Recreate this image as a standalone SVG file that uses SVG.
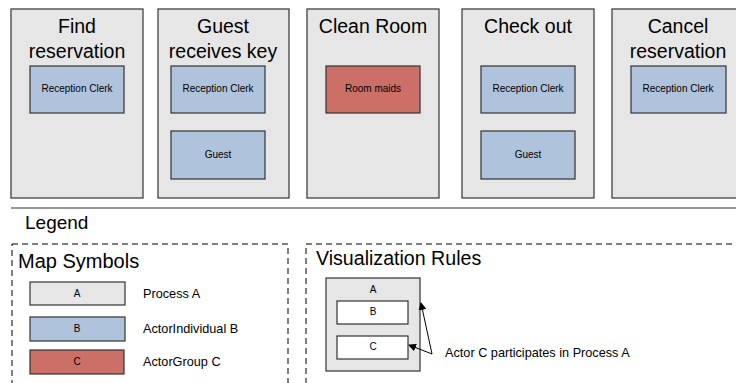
<svg xmlns="http://www.w3.org/2000/svg" width="736" height="383" viewBox="0 0 736 383">
<defs>
<marker id="ah" markerWidth="8" markerHeight="8" refX="7" refY="4" orient="auto" markerUnits="userSpaceOnUse">
<path d="M0,0 L8,4 L0,8 Z" fill="#000"/>
</marker>
<style>
text{font-family:"Liberation Sans",Arial,sans-serif;fill:#000}
.proc{fill:#e6e6e6;stroke:#333;stroke-width:1.2}
.ind{fill:#b0c3dc;stroke:#333;stroke-width:1.2}
.grp{fill:#cc6f67;stroke:#333;stroke-width:1.2}
.wht{fill:#fff;stroke:#333;stroke-width:1.2}
.title{font-size:19.5px;text-anchor:middle}
.lbl{font-size:10px;text-anchor:middle}
.sm{font-size:12.7px}
.dash{fill:none;stroke:#000;stroke-width:1;stroke-dasharray:6,4}
.conn{stroke:#000;stroke-width:1;fill:none;marker-end:url(#ah)}
</style>
</defs>
<rect width="736" height="383" fill="#fff"/>

<g id="p1">
<rect class="proc" x="11" y="9" width="132" height="189"/>
<text class="title" x="77" y="33">Find</text>
<text class="title" x="77" y="58">reservation</text>
<rect class="ind" x="30" y="66" width="94" height="47"/>
<text class="lbl" x="77" y="92">Reception Clerk</text>
</g>

<g id="p2">
<rect class="proc" x="158" y="9" width="131" height="189"/>
<text class="title" x="223" y="33">Guest</text>
<text class="title" x="223" y="58">receives key</text>
<rect class="ind" x="171" y="66" width="94" height="47"/>
<text class="lbl" x="218" y="92">Reception Clerk</text>
<rect class="ind" x="171" y="131" width="94" height="48"/>
<text class="lbl" x="218" y="158">Guest</text>
</g>

<g id="p3">
<rect class="proc" x="307" y="9" width="132" height="189"/>
<text class="title" x="373" y="33">Clean Room</text>
<rect class="grp" x="326" y="66" width="94" height="47"/>
<text class="lbl" x="373" y="92">Room maids</text>
</g>

<g id="p4">
<rect class="proc" x="462" y="9" width="132" height="189"/>
<text class="title" x="528" y="33">Check out</text>
<rect class="ind" x="481" y="66" width="94" height="47"/>
<text class="lbl" x="528" y="92">Reception Clerk</text>
<rect class="ind" x="481" y="131" width="94" height="48"/>
<text class="lbl" x="528" y="158">Guest</text>
</g>

<g id="p5">
<rect class="proc" x="612" y="9" width="132" height="189"/>
<text class="title" x="678" y="33">Cancel</text>
<text class="title" x="678" y="58">reservation</text>
<rect class="ind" x="631" y="66" width="95" height="47"/>
<text class="lbl" x="678" y="92">Reception Clerk</text>
</g>

<g id="divider">
<line x1="11" y1="208" x2="736" y2="208" stroke="#333" stroke-width="1.2"/>
<text x="25" y="229" font-size="19">Legend</text>
</g>

<g id="map-symbols">
<rect class="dash" x="12" y="244" width="276" height="150"/>
<text x="18" y="268" font-size="20">Map Symbols</text>
<rect class="proc" x="30" y="282" width="95" height="23"/>
<text class="lbl" x="77" y="297">A</text>
<text class="sm" x="143" y="298">Process A</text>
<rect class="ind" x="30" y="317" width="95" height="24"/>
<text class="lbl" x="77" y="332">B</text>
<text class="sm" x="143" y="333">ActorIndividual B</text>
<rect class="grp" x="30" y="350" width="94" height="24"/>
<text class="lbl" x="77" y="365">C</text>
<text class="sm" x="143" y="366">ActorGroup C</text>
</g>

<g id="visualization-rules">
<rect class="dash" x="306" y="244" width="440" height="150"/>
<text x="316" y="265" font-size="19.6">Visualization Rules</text>
<g id="rule-a">
<rect class="proc" x="326" y="278" width="94" height="93"/>
<text class="lbl" x="373" y="293">A</text>
</g>
<g id="rule-b">
<rect class="wht" x="337" y="301" width="71" height="23"/>
<text class="lbl" x="373" y="315">B</text>
</g>
<g id="rule-c">
<rect class="wht" x="337" y="336" width="71" height="23"/>
<text class="lbl" x="373" y="350">C</text>
</g>
<text class="sm" x="445" y="357">Actor C participates in Process A</text>
</g>

<g id="connectors">
<line class="conn" x1="432" y1="354" x2="421" y2="303"/>
<line class="conn" x1="432" y1="354" x2="409" y2="345"/>
</g>
</svg>
